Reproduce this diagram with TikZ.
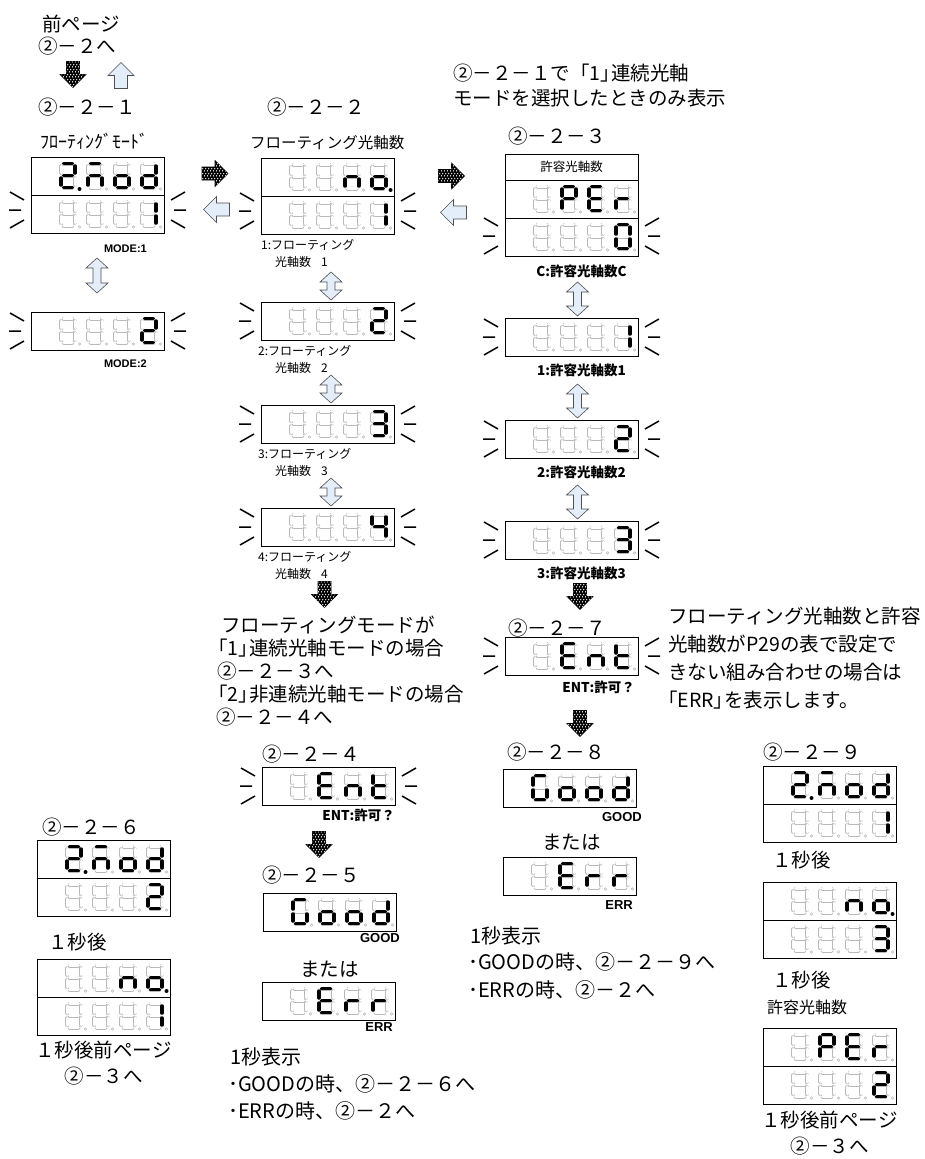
\documentclass[tikz,border=0pt]{standalone}
\usepackage{fontspec}
\usepackage{xcolor}
\usepackage{tikz}
\usetikzlibrary{patterns}
\newfontfamily\jp{Noto Sans CJK JP}
\newfontfamily\jpp{Noto Sans CJK JP}[RawFeature=+palt]
\newfontfamily\lat{Liberation Sans}
\definecolor{ArrowBlue}{RGB}{228,237,250}
\definecolor{SegGray}{RGB}{185,185,185}
\definecolor{EdgeGray}{RGB}{80,80,80}
\pgfdeclarepatternformonly{hexdots}{\pgfpointorigin}{\pgfpoint{3pt}{5.2pt}}{\pgfpoint{3pt}{5.2pt}}{%
  \pgfpathcircle{\pgfpoint{0.75pt}{1.3pt}}{0.85pt}%
  \pgfpathcircle{\pgfpoint{2.25pt}{3.9pt}}{0.85pt}%
  \pgfusepath{fill}}

\newcommand{\sega}{(2.7,0)--(11.3,0)}
\newcommand{\segb}{(14,2.7)--(14,9.3)}
\newcommand{\segc}{(14,14.7)--(14,21.3)}
\newcommand{\segd}{(2.7,24)--(11.3,24)}
\newcommand{\sege}{(0,14.7)--(0,21.3)}
\newcommand{\segf}{(0,2.7)--(0,9.3)}
\newcommand{\segg}{(2.7,12)--(11.3,12)}
\newcommand{\segp}{(18.5,25.5)--(18.6,25.5)}
\newcommand{\segx}{(0,0)}

\newcommand{\sgnone}{x}
\newcommand{\sgzero}{a,b,c,d,e,f}
\newcommand{\sgone}{b,c}
\newcommand{\sgtwo}{a,b,g,e,d}
\newcommand{\sgtwop}{a,b,g,e,d,p}
\newcommand{\sgthree}{a,b,g,c,d}
\newcommand{\sgfour}{f,g,b,c}
\newcommand{\sgM}{a,c,e,g}
\newcommand{\sgn}{c,e,g}
\newcommand{\sglo}{c,d,e,g}
\newcommand{\sglop}{c,d,e,g,p}
\newcommand{\sgld}{b,c,d,e,g}
\newcommand{\sgG}{a,f,e,d,c}
\newcommand{\sgE}{a,f,g,e,d}
\newcommand{\sglr}{e,g}
\newcommand{\sglt}{f,g,e,d}
\newcommand{\sgP}{a,b,f,g,e}

\newcommand{\sevdig}[2]{%
  \begin{scope}[shift={#1}]
    \foreach \s in {a,b,c,d,e,f,g}{\draw[segoff] \csname seg\s\endcsname;}
    \draw[dpoff] (18.5,25.5) circle (1.3pt);
    \edef\seglist{#2}%
    \foreach \s in \seglist {\draw[segon] \csname seg\s\endcsname;}
  \end{scope}}
\newcommand{\segrow}[6]{%
  \sevdig{(#1+30,#2+6.5)}{#3}\sevdig{(#1+57,#2+6.5)}{#4}%
  \sevdig{(#1+84,#2+6.5)}{#5}\sevdig{(#1+111,#2+6.5)}{#6}}
\newcommand{\blink}[2]{%
  \draw[blinkline] (#1-21,#2-18) -- (#1-7,#2-10) (#1-22,#2) -- (#1-10,#2) (#1-21,#2+18) -- (#1-7,#2+10)
    (#1+154,#2-18) -- (#1+140,#2-10) (#1+155,#2) -- (#1+143,#2) (#1+154,#2+18) -- (#1+140,#2+10);}
\newcommand{\blockarr}[4]{%
  \draw[#1, shift={(#2,#3)}, rotate=#4] (-13,-6.5) -- (0,-6.5) -- (0,-13) -- (13,0) -- (0,13) -- (0,6.5) -- (-13,6.5) -- cycle;}
\newcommand{\dblarr}[3]{%
  \draw[hollowarr] (#1,#2) -- (#1+11,#2+10) -- (#1+4,#2+10) -- (#1+4,#3-10) -- (#1+11,#3-10) -- (#1,#3)
    -- (#1-11,#3-10) -- (#1-4,#3-10) -- (#1-4,#2+10) -- (#1-11,#2+10) -- cycle;}

\tikzset{
  segoff/.style={draw=SegGray, line width=0.5pt, double=white, double distance=3pt, line cap=round},
  segon/.style={draw=black, line width=3.8pt, line cap=round},
  dpoff/.style={draw=SegGray, line width=0.5pt, fill=white},
  dispbox/.style={draw, line width=0.9pt, inner sep=0pt, outer sep=0pt, minimum width=133, anchor=north west},
  blinkline/.style={line width=1.5pt},
  dotarr/.style={draw=black, line width=0.6pt, fill=black, postaction={pattern=hexdots, pattern color=white}},
  hollowarr/.style={draw=EdgeGray, line width=0.6pt, fill=ArrowBlue},
  bigtxt/.style={font=\jp\fontsize{19.5}{23}\selectfont, inner sep=0pt, anchor=west},
  widetxt/.style={font=\jp\fontsize{20}{24}\selectfont, inner sep=0pt, anchor=west},
  titletxt/.style={font=\jp\fontsize{15.5}{18}\selectfont, inner sep=0pt, anchor=west},
  lbltxt/.style={font=\jp\fontsize{12}{14}\selectfont, inner sep=0pt, anchor=west},
  boldlbl/.style={font=\jp\bfseries\fontsize{13.5}{15}\selectfont, inner sep=0pt},
  modetxt/.style={font=\lat\bfseries\fontsize{11}{13}\selectfont, inner sep=0pt, anchor=east},
  goodtxt/.style={font=\lat\bfseries\fontsize{13}{15}\selectfont, inner sep=0pt, anchor=east}
}

\begin{document}
\begin{tikzpicture}[x=1pt, y=-1pt]
    \useasboundingbox (0,0) rectangle (924,1159);

    \node[bigtxt, font=\jpp\fontsize{19.5}{23}\selectfont] (prev) at (42,24) {前ページ};
    \node[bigtxt] (prevnum) at (38,46) {②－２へ};
    \blockarr{dotarr}{73}{74.5}{-90}
    \blockarr{hollowarr}{121}{75.5}{90}
    \node[bigtxt] (h221) at (38,107) {②－２－１};
    \node[titletxt, font=\jp\fontsize{18}{20}\selectfont] (t221) at (40,141) {ﾌﾛｰﾃｨﾝｸﾞﾓｰﾄﾞ};
    \node[dispbox, minimum height=76] (b221) at (31,157) {};
    \draw[line width=0.9pt] (b221.west) -- (b221.east);
    \segrow{31}{157}{\sgtwop}{\sgM}{\sglo}{\sgld}
    \segrow{31}{195}{\sgnone}{\sgnone}{\sgnone}{\sgone}
    \blink{31}{210}
    \node[modetxt] (m1) at (147,249) {MODE:1};
    \dblarr{97}{258}{293}
    \node[dispbox, minimum height=38] (b221b) at (31,312) {};
    \segrow{31}{312}{\sgnone}{\sgnone}{\sgnone}{\sgtwo}
    \blink{31}{331}
    \node[modetxt] (m2) at (147,364) {MODE:2};

    \node[bigtxt] (h222) at (267,107) {②－２－２};
    \node[titletxt] (t222) at (250,143) {フローティング光軸数};
    \blockarr{dotarr}{215}{173.5}{0}
    \blockarr{hollowarr}{216.5}{209.5}{180}
    \node[dispbox, minimum height=76] (b222) at (261,158) {};
    \draw[line width=0.9pt] (b222.west) -- (b222.east);
    \segrow{261}{158}{\sgnone}{\sgnone}{\sgn}{\sglop}
    \segrow{261}{196}{\sgnone}{\sgnone}{\sgnone}{\sgone}
    \blink{261}{211}
    \node[lbltxt] (l1a) at (261,245) {1:フローティング};
    \node[lbltxt] (l1b) at (275,262) {光軸数\hspace{10pt}1};
    \foreach \n/\d/\y in {2/\sgtwo/302, 3/\sgthree/405, 4/\sgfour/508}{
        \dblarr{331}{\y-30}{\y-2}
        \node[dispbox, minimum height=38] (b222n\n) at (261,\y) {};
        \segrow{261}{\y}{\sgnone}{\sgnone}{\sgnone}{\d}
        \blink{261}{\y+19}
        \node[lbltxt] (l\n a) at (258,\y+49) {\n:フローティング};
        \node[lbltxt] (l\n b) at (275,\y+66) {光軸数\hspace{10pt}\n};
    }
    \blockarr{dotarr}{324.5}{594.5}{-90}
    \foreach \dx/\t [count=\i] in {221/フローティングモードが, 208/「1」\hspace{-9pt}連続光軸モードの場合, 217/②－２－３へ, 208/「2」\hspace{-9pt}非連続光軸モードの場合, 216/②－２－４へ}
        \node[bigtxt] (cond\i) at (\dx,602+23*\i) {\t};
    \node[bigtxt] (h224) at (262,754.5) {②－２－４};
    \node[dispbox, minimum height=38] (b224) at (262,767) {};
    \segrow{262}{767}{\sgnone}{\sgE}{\sgn}{\sglt}
    \blink{262}{786}
    \node[boldlbl, anchor=east] (e224) at (395,815) {ENT:許可？};
    \blockarr{dotarr}{319}{844.5}{-90}
    \node[bigtxt] (h225) at (262,875.5) {②－２－５};
    \node[dispbox, minimum height=38] (b225) at (263,893) {};
    \segrow{263}{893}{\sgG}{\sglo}{\sglo}{\sgld}
    \node[goodtxt] (g225) at (400,938) {GOOD};
    \node[bigtxt] (or225) at (300,969.5) {または};
    \node[dispbox, minimum height=38] (b225b) at (262,982) {};
    \segrow{262}{982}{\sgnone}{\sgE}{\sglr}{\sglr}
    \node[goodtxt] (r225) at (393,1027) {ERR};
    \node[widetxt] (n225a) at (230,1057) {1秒表示};
    \node[widetxt] (n225b) at (228,1084) {･GOODの時、②－２－６へ};
    \node[widetxt] (n225c) at (228,1111) {･ERRの時、②－２へ};

    \node[bigtxt] (top1) at (453,73) {②－２－１で「1」\hspace{-9pt}連続光軸};
    \node[bigtxt] (top2) at (453,98) {モードを選択したときのみ表示};
    \node[bigtxt] (h223) at (508,136.5) {②－２－３};
    \blockarr{dotarr}{451.5}{176}{0}
    \blockarr{hollowarr}{453.5}{212.5}{180}
    \node[dispbox, minimum height=102] (b223) at (505,154) {};
    \draw[line width=0.9pt] ([yshift=-26pt]b223.north west) -- ([yshift=-26pt]b223.north east);
    \draw[line width=0.9pt] ([yshift=-64pt]b223.north west) -- ([yshift=-64pt]b223.north east);
    \node[lbltxt, anchor=center, font=\jp\fontsize{12.5}{14}\selectfont] (t223) at (571.5,167) {許容光軸数};
    \segrow{505}{180}{\sgnone}{\sgP}{\sgE}{\sglr}
    \segrow{505}{218}{\sgnone}{\sgnone}{\sgnone}{\sgzero}
    \blink{505}{236}
    \node[boldlbl] (c223) at (581.5,271) {C:許容光軸数C};
    \foreach \n/\d/\y in {1/\sgone/318, 2/\sgtwo/420, 3/\sgthree/521}{
        \dblarr{577.5}{\y-36}{\y-2}
        \node[dispbox, minimum height=38] (b223n\n) at (505,\y) {};
        \segrow{505}{\y}{\sgnone}{\sgnone}{\sgnone}{\d}
        \blink{505}{\y+19}
        \node[boldlbl] (c\n) at (581.5,\y+52) {\n:許容光軸数\n};
    }
    \blockarr{dotarr}{580}{596.5}{-90}
    \node[bigtxt] (h227) at (508,628.5) {②－２－７};
    \node[dispbox, minimum height=38] (b227) at (505,637) {};
    \segrow{505}{637}{\sgnone}{\sgE}{\sgn}{\sglt}
    \blink{505}{656}
    \node[boldlbl, anchor=east] (e227) at (635,687.5) {ENT:許可？};
    \blockarr{dotarr}{580}{723.5}{-90}
    \node[bigtxt] (h228) at (507,752.5) {②－２－８};
    \node[dispbox, minimum height=38] (b228) at (503,769) {};
    \segrow{503}{769}{\sgG}{\sglo}{\sglo}{\sgld}
    \node[goodtxt] (g228) at (642,817) {GOOD};
    \node[bigtxt] (or228) at (542,842.5) {または};
    \node[dispbox, minimum height=38] (b228b) at (503,857) {};
    \segrow{503}{857}{\sgnone}{\sgE}{\sglr}{\sglr}
    \node[goodtxt] (r228) at (633,905) {ERR};
    \node[widetxt] (n228a) at (470,935.5) {1秒表示};
    \node[widetxt] (n228b) at (468,961.5) {･GOODの時、②－２－９へ};
    \node[widetxt] (n228c) at (468,989.5) {･ERRの時、②－２へ};
    \foreach \dx/\t [count=\i] in {668/フローティング光軸数と許容, 668/光軸数がP29の表で設定で, 668/きない組み合わせの場合は, 658/「ERR」\hspace{-9pt}を表示します。}
        \node[bigtxt] (note\i) at (\dx,588+28*\i) {\t};

    \node[bigtxt] (h226) at (42,827.5) {②－２－６};
    \node[dispbox, minimum height=76] (b226) at (37,840) {};
    \draw[line width=0.9pt] (b226.west) -- (b226.east);
    \segrow{37}{840}{\sgtwop}{\sgM}{\sglo}{\sgld}
    \segrow{37}{878}{\sgnone}{\sgnone}{\sgnone}{\sgtwo}
    \node[bigtxt] (s226) at (48,942.5) {１秒後};
    \node[dispbox, minimum height=76] (b226b) at (37,959) {};
    \draw[line width=0.9pt] (b226b.west) -- (b226b.east);
    \segrow{37}{959}{\sgnone}{\sgnone}{\sgn}{\sglop}
    \segrow{37}{997}{\sgnone}{\sgnone}{\sgnone}{\sgone}
    \node[bigtxt, anchor=center] (p226) at (103.5,1050) {１秒後前ページ};
    \node[bigtxt, anchor=center] (q226) at (103.5,1076) {②－３へ};

    \node[bigtxt] (h229) at (763,752.5) {②－２－９};
    \node[dispbox, minimum height=76] (b229) at (763,766) {};
    \draw[line width=0.9pt] (b229.west) -- (b229.east);
    \segrow{763}{766}{\sgtwop}{\sgM}{\sglo}{\sgld}
    \segrow{763}{804}{\sgnone}{\sgnone}{\sgnone}{\sgone}
    \node[bigtxt] (s229a) at (772,860.5) {１秒後};
    \node[dispbox, minimum height=76] (b229b) at (763,882) {};
    \draw[line width=0.9pt] (b229b.west) -- (b229b.east);
    \segrow{763}{882}{\sgnone}{\sgnone}{\sgn}{\sglop}
    \segrow{763}{920}{\sgnone}{\sgnone}{\sgnone}{\sgthree}
    \node[bigtxt] (s229b) at (772,980.5) {１秒後};
    \node[titletxt, font=\jp\fontsize{16}{18}\selectfont] (t229) at (767,1007.5) {許容光軸数};
    \node[dispbox, minimum height=76] (b229c) at (763,1028) {};
    \draw[line width=0.9pt] (b229c.west) -- (b229c.east);
    \segrow{763}{1028}{\sgnone}{\sgP}{\sgE}{\sglr}
    \segrow{763}{1066}{\sgnone}{\sgnone}{\sgnone}{\sgtwo}
    \node[bigtxt, anchor=center] (p229) at (829.5,1120) {１秒後前ページ};
    \node[bigtxt, anchor=center] (q229) at (829.5,1146.5) {②－３へ};
\end{tikzpicture}
\end{document}
